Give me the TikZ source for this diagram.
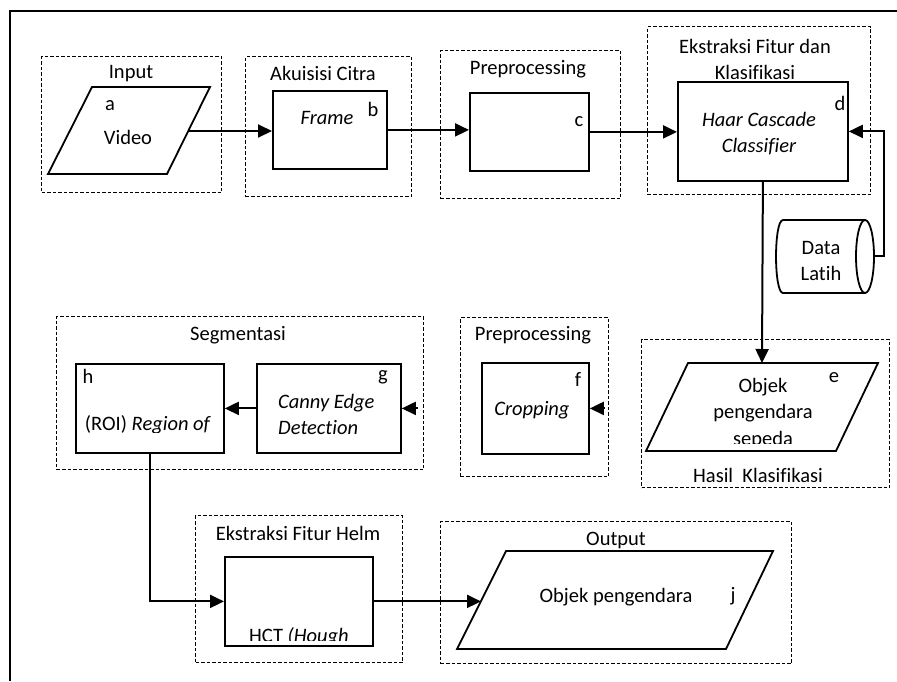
\documentclass[tikz,border=0pt]{standalone}
\usepackage{fontspec}
\setmainfont[Ligatures=NoCommon]{Carlito}
\usetikzlibrary{arrows.meta}
\begin{document}
\begin{tikzpicture}[x=1pt,y=-1pt,
  txt/.style={font=\fontsize{20.5}{26}\selectfont, inner sep=0pt},
  itxt/.style={font=\fontsize{20.5}{26}\selectfont\itshape, inner sep=0pt},
  grp/.style={draw, line width=1.3pt, dash pattern=on 3.5pt off 2pt, anchor=north west, inner sep=0pt},
  proc/.style={draw, line width=1.8pt, anchor=north west, inner sep=0pt},
  shp/.style={draw, line width=1.8pt, line join=miter},
  link/.style={line width=2pt, -{Triangle[length=14pt,width=13pt]}},
]
\useasboundingbox (0,0) rectangle (897,681);

% outer frame
\draw[line width=1.8pt] (10,681) -- (10,11) -- (897,11);

% stage groups
\node[grp, minimum width=180, minimum height=136] (gin)   at (41,56)  {};
\node[grp, minimum width=166, minimum height=140] (gacq)  at (245,56) {};
\node[grp, minimum width=180, minimum height=148] (gpre)  at (440,50) {};
\node[grp, minimum width=223, minimum height=168] (gcls)  at (647,26) {};
\node[grp, minimum width=367, minimum height=153] (gseg)  at (56,316) {};
\node[grp, minimum width=148, minimum height=159] (gcrop) at (460,317) {};
\node[grp, minimum width=248, minimum height=148] (gres)  at (641,339) {};
\node[grp, minimum width=207, minimum height=147] (ghelm) at (195,515) {};
\node[grp, minimum width=351, minimum height=142] (gout)  at (440,521) {};

% group titles
\node[txt] (tin)   at (131,74)  {Input};
\node[txt] (tacq)  at (323,73)  {Akuisisi Citra};
\node[txt] (tpre)  at (528,69)  {Preprocessing};
\node[txt, align=center] (tcls) at (755,59) {Ekstraksi Fitur dan\\Klasifikasi};
\node[txt] (tseg)  at (238,335) {Segmentasi};
\node[txt] (tcrop) at (533,335) {Preprocessing};
\node[txt] (tres)  at (758,475) {Hasil\ \ Klasifikasi};
\node[txt] (thelm) at (298,533) {Ekstraksi Fitur Helm};
\node[txt] (tout)  at (616,540) {Output};

% input / output shapes
\draw[shp] (92,87) -- (210,87) -- (167,174) -- (48,174) -- cycle;
\draw[shp] (688,363) -- (878,363) -- (836,451) -- (646,451) -- cycle;
\draw[shp] (506,551) -- (773,551) -- (726,649) -- (457,649) -- cycle;
\coordinate (aout) at (188,131);
\coordinate (etop) at (762,363);
\coordinate (jin)  at (481,600);

% process boxes
\node[proc, minimum width=114, minimum height=78] (b)   at (272,90)  {};
\node[proc, minimum width=119, minimum height=78] (c)   at (469,92)  {};
\node[proc, minimum width=170, minimum height=99] (d)   at (677,81)  {};
\node[proc, minimum width=107, minimum height=91] (f)   at (481,362) {};
\node[proc, minimum width=144, minimum height=89] (g)   at (256,363) {};
\node[proc, minimum width=148, minimum height=89] (h)   at (75,363)  {};
\node[proc, minimum width=148, minimum height=89] (hct) at (224,556) {};

% training data store
\draw[shp] (865,220) -- (783,220) .. controls (773.7,220) and (773.7,293) .. (783,293) -- (865,293);
\draw[shp] (865,256.5) ellipse [x radius=9, y radius=36.5];
\node[txt, align=center] (dl) at (821,260.5) {Data\\Latih};
\coordinate (dlout) at (874,256);

% texts inside shapes
\node[txt]  (la) at (110,106) {a};
\node[txt]  (va) at (128,137) {Video};
\node[txt]  (lb) at (373,109) {b};
\node[itxt] (vb) at (327,118) {Frame};
\node[txt]  (lc) at (579,122) {c};
\node[txt]  (ld) at (840,103) {d};
\node[itxt, align=center] (vd) at (759,134) {Haar Cascade\\Classifier};
\node[txt]  (le) at (834,378) {e};
\begin{scope}
  \clip (640,360) rectangle (890,443);
  \node[txt, anchor=base] (ve1) at (763,392) {Objek};
  \node[txt, anchor=base] (ve2) at (763,418) {pengendara};
  \node[txt, anchor=base] (ve3) at (763,445) {sepeda};
\end{scope}
\node[txt]  (lf) at (578,379) {f};
\node[itxt] (vf) at (532,410) {Cropping};
\node[txt]  (lg) at (383,377) {g};
\node[itxt, align=left, anchor=west] (vg) at (278,414) {Canny Edge\\Detection};
\node[txt]  (lh) at (88,376) {h};
\begin{scope}
  \clip (75,363) rectangle (223,432);
  \node[txt, anchor=base] (vh) at (148,430) {(ROI) \textit{Region of}};
\end{scope}
\begin{scope}
  \clip (224,556) rectangle (372,640);
  \node[txt, anchor=base] (vhct) at (299,642) {HCT \textit{(Hough}};
\end{scope}
\node[txt] (vj) at (616,597) {Objek pengendara};
\node[txt] (lj) at (733,596) {j};

% connectors
\draw[link] (aout) -- (aout -| b.west);
\draw[link] (b.east) -- (b.east -| c.west);
\draw[link] (c.east) -- (c.east -| d.west);
\draw[link] (dlout) -- ++(10,0) |- (d.east);
\draw[link] (d.south) -- (etop);
\draw[link] ([xshift=15pt]f.east) -- (f.east);
\draw[link] ([xshift=16pt]g.east) -- (g.east);
\draw[link] (g.west) -- (h.east);
\draw[link] (h.south) |- (hct.west);
\draw[link] (hct.east) -- (hct.east -| jin);
\end{tikzpicture}
\end{document}
